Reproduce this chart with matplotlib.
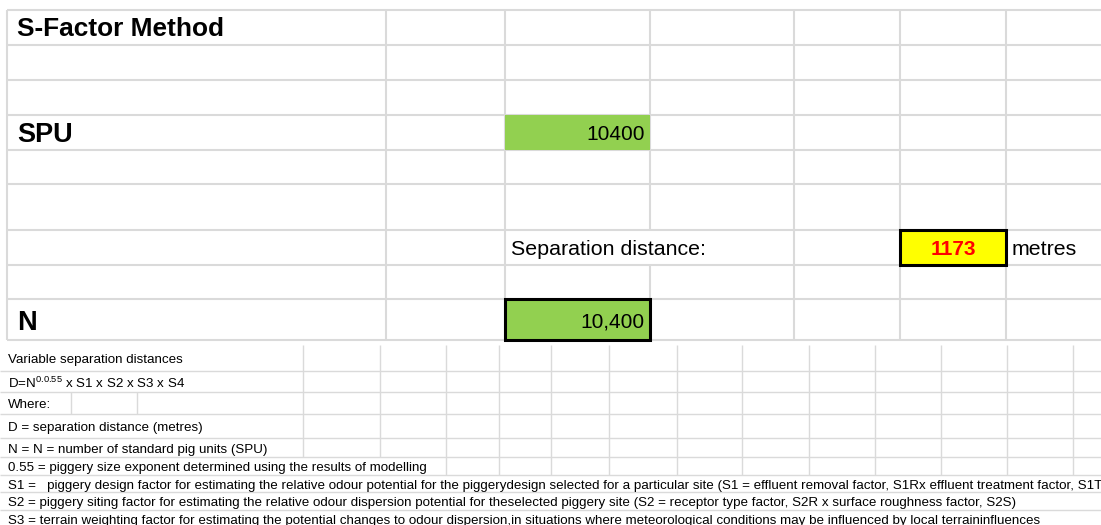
import matplotlib.pyplot as plt
from matplotlib.patches import Rectangle

plt.rcParams['font.family'] = ['Liberation Sans', 'DejaVu Sans']
plt.rcParams['mathtext.fontset'] = 'custom'
plt.rcParams['mathtext.rm'] = 'Liberation Sans'
plt.rcParams['mathtext.default'] = 'regular'

# sheet content
title = "S-Factor Method"
spu_label = "SPU"
spu_value = 10400
sep_label = "Separation distance:"
sep_value = 1173
sep_unit = "metres"
n_label = "N"
n_value = 10400

notes = [
    "Variable separation distances",
    r"D=N$^{0.0.55}$ x S1 x S2 x S3 x S4",
    "Where:",
    "D = separation distance (metres)",
    "N = N = number of standard pig units (SPU)",
    "0.55 = piggery size exponent determined using the results of modelling",
    "S1 =   piggery design factor for estimating the relative odour potential for the piggerydesign "
    "selected for a particular site (S1 = effluent removal factor, S1Rx effluent treatment factor, S1T",
    "S2 = piggery siting factor for estimating the relative odour dispersion potential for theselected "
    "piggery site (S2 = receptor type factor, S2R x surface roughness factor, S2S)",
    "S3 = terrain weighting factor for estimating the potential changes to odour dispersion,in "
    "situations where meteorological conditions may be influenced by local terraininfluences",
]

# grid layout (pixels)
W, H = 1101, 525
top_rows = [10, 45, 80, 115, 150, 184, 230, 265, 299, 340]
top_cols = [7, 386, 505, 650, 794, 900, 1006]
low_rows = [345, 371, 392, 414, 438, 457, 475, 492, 510, 528]
low_cols = [71, 137, 303, 380, 446, 499, 551, 609, 677, 742, 809, 875, 941, 1007, 1073]
low_rows_no_cols = [6, 7, 8]  # long text rows spill over the whole width

GREEN = '#92D050'
YELLOW = '#FFFF00'
GRID = '#DADADA'

fig = plt.figure(figsize=(W / 100, H / 100), dpi=100)
ax = fig.add_axes([0, 0, 1, 1])
ax.set_xlim(0, W)
ax.set_ylim(H, 0)
ax.axis('off')


def mid(rows, i):
    return (rows[i] + rows[i + 1]) / 2


# cell fills
ax.add_patch(Rectangle((505, 115), 145, 35, facecolor=GREEN, edgecolor='none', zorder=2))
ax.add_patch(Rectangle((900, 230), 106, 35, facecolor=YELLOW, edgecolor='black', lw=2.2, zorder=4))
ax.add_patch(Rectangle((505, 299), 145, 41, facecolor=GREEN, edgecolor='black', lw=2.2, zorder=4))

top_texts = []  # (row index, text artist)
t = ax.text(17, mid(top_rows, 0) + 2, title, fontsize=18.9, fontweight='bold', va='center', zorder=5)
top_texts.append((0, t))
t = ax.text(17, mid(top_rows, 3) + 3, spu_label, fontsize=19.5, fontweight='bold', va='center', zorder=5)
top_texts.append((3, t))
ax.text(645, mid(top_rows, 3) + 2.5, str(spu_value), fontsize=15, ha='right', va='center', zorder=5)
t = ax.text(511, mid(top_rows, 6) + 2, sep_label, fontsize=15.4, va='center', zorder=5)
top_texts.append((6, t))
ax.text(953, mid(top_rows, 6) + 2, str(sep_value), fontsize=15, fontweight='bold', color='#FF0000',
        ha='center', va='center', zorder=5)
ax.text(1012, mid(top_rows, 6) + 2, sep_unit, fontsize=15.4, va='center', zorder=5)
t = ax.text(17, mid(top_rows, 8) + 3, n_label, fontsize=19.5, fontweight='bold', va='center', zorder=5)
top_texts.append((8, t))
ax.text(645, mid(top_rows, 8) + 3, f"{n_value:,}", fontsize=15, ha='right', va='center', zorder=5)

low_texts = []
for i, line in enumerate(notes):
    t = ax.text(8, mid(low_rows, i) + 2, line, fontsize=9.6, va='center', zorder=5, clip_on=True)
    low_texts.append((i, t))

# find where overflowing text hides the vertical grid lines
fig.canvas.draw()
inv = ax.transData.inverted()


def text_span(t):
    bb = t.get_window_extent()
    (x0, _), (x1, _) = inv.transform([(bb.x0, bb.y0), (bb.x1, bb.y1)])
    return min(x0, x1), max(x0, x1)


def draw_grid(rows, hlines, cols, texts, lw, x_start, skip_rows=()):
    for y in hlines:
        ax.plot([x_start, W], [y, y], color=GRID, lw=lw, zorder=1, solid_capstyle='butt')
    spans = {}
    for i, t in texts:
        spans.setdefault(i, []).append(text_span(t))
    for i in range(len(rows) - 1):
        if i in skip_rows:
            continue
        for x in cols:
            hidden = any(a - 2 < x < b + 3 for a, b in spans.get(i, []))
            if not hidden:
                ax.plot([x, x], [rows[i], rows[i + 1]], color=GRID, lw=lw, zorder=1,
                        solid_capstyle='butt')


draw_grid(top_rows, top_rows, top_cols, top_texts, 1.5, 7)
draw_grid(low_rows, low_rows[1:], low_cols, low_texts, 1.0, 0, low_rows_no_cols)

fig.savefig('out.png', dpi=100)
